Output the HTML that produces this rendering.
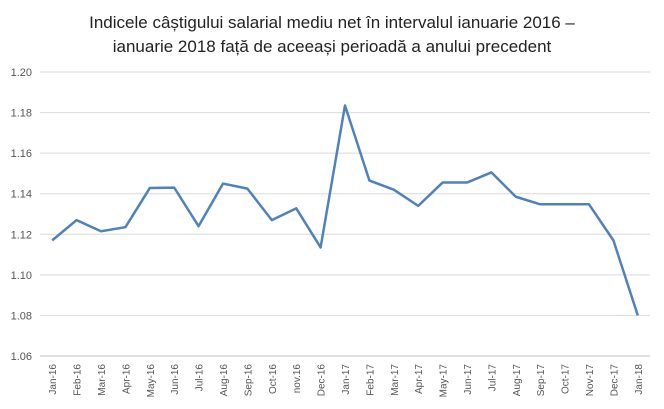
<!DOCTYPE html>
<html><head><meta charset="utf-8"><style>
body{margin:0;background:#fff;}
svg{display:block;font-family:"Liberation Sans",sans-serif;}
</style></head><body>
<svg id="chart" width="664" height="409">
<text x="332" y="28" text-anchor="middle" font-size="17" fill="#222">Indicele câștigului salarial mediu net în intervalul ianuarie 2016 –</text>
<text x="332" y="52" text-anchor="middle" font-size="17" fill="#222">ianuarie 2018 față de aceeași perioadă a anului precedent</text>
<g id="grid"></g><g id="xl"></g><g id="yl"></g><g id="series"></g>
</svg>
<script>
const categories=["Jan-16","Feb-16","Mar-16","Apr-16","May-16","Jun-16","Jul-16","Aug-16","Sep-16","Oct-16","nov.16","Dec-16","Jan-17","Feb-17","Mar-17","Apr-17","May-17","Jun-17","Jul-17","Aug-17","Sep-17","Oct-17","Nov-17","Dec-17","Jan-18"];
const values=[1.117,1.127,1.1215,1.1235,1.1428,1.143,1.124,1.145,1.1425,1.127,1.1328,1.1135,1.1835,1.1465,1.142,1.134,1.1455,1.1455,1.1505,1.1385,1.1348,1.1348,1.1348,1.117,1.080];
const yTicks=[1.06,1.08,1.10,1.12,1.14,1.16,1.18,1.20];
const NS="http://www.w3.org/2000/svg";
const x0=40,x1=650,yMin=1.06,yMax=1.20,yb=356,yt=72;
const step=(x1-x0)/categories.length;
const X=i=>x0+step*(i+0.5);
const Y=v=>yb-(v-yMin)/(yMax-yMin)*(yb-yt);
function mk(t,a,p){const e=document.createElementNS(NS,t);for(const k in a)e.setAttribute(k,a[k]);p.appendChild(e);return e;}
const grid=document.getElementById('grid'),yl=document.getElementById('yl'),xl=document.getElementById('xl'),ser=document.getElementById('series');
yTicks.forEach(v=>{
 const l=mk('line',{x1:x0,x2:x1,y1:Y(v),y2:Y(v),stroke:v===yMin?'#bfbfbf':'#d9d9d9','stroke-width':1},grid);
 
 
 const t=mk('text',{x:32,y:Y(v)+4,'text-anchor':'end','font-size':11,fill:'#555'},yl);
 t.textContent=v.toFixed(2);
 
 
});
categories.forEach((c,i)=>{
 const t=mk('text',{transform:`translate(${X(i)+4},${yb+8}) rotate(-90)`,'text-anchor':'end','font-size':10,fill:'#555'},xl);
 t.textContent=c;
 
 
});
const p=mk('polyline',{points:values.map((v,i)=>X(i)+','+Y(v)).join(' '),fill:'none',stroke:'#4f81bd','stroke-width':2.5,'stroke-linejoin':'round'},ser);


</script>
</body></html>
